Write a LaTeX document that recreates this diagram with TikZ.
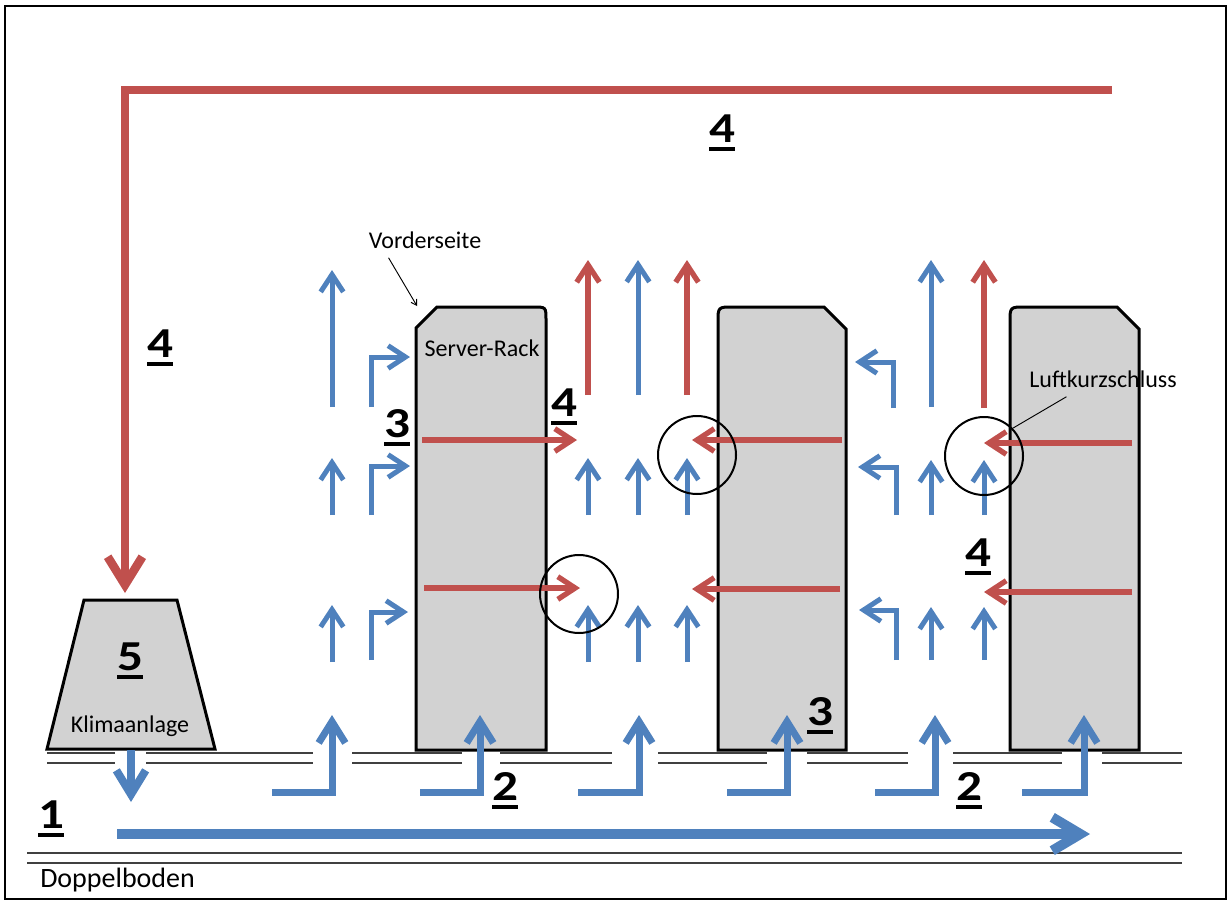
\documentclass[tikz,border=0pt]{standalone}
\usepackage{fontspec}
\setmainfont{Carlito}
\usepackage{graphicx}
\usetikzlibrary{arrows.meta}
\definecolor{cblue}{RGB}{79,129,189}
\definecolor{cred}{RGB}{192,80,77}
\definecolor{rackgray}{RGB}{210,210,210}
\newcommand\ulnum[1]{\setbox0\hbox{#1}\rlap{\vrule height -4pt depth 6.5pt width \wd0}\box0}
\newcommand\dg[1]{\scalebox{1.2}[1]{\fontsize{32}{34}\selectfont\bfseries\ulnum{#1}}}
\begin{document}
\begin{tikzpicture}[x=0.75pt,y=-0.75pt,
  bsmall/.style={draw=cblue, line width=3.75pt, -{Straight Barb[length=13pt,width=17pt,line width=3.75pt]}},
  rsmall/.style={draw=cred, line width=4pt, -{Straight Barb[length=13pt,width=17pt,line width=4pt]}},
  bfloor/.style={draw=cblue, line width=5.25pt, line join=miter, -{Straight Barb[length=16pt,width=20pt,line width=5.25pt]}},
  bmain/.style={draw=cblue, line width=7.5pt, -{Straight Barb[length=21pt,width=25pt,line width=7.5pt]}},
  bdown/.style={draw=cblue, line width=6pt, -{Straight Barb[length=18pt,width=22pt,line width=6pt]}},
  rmain/.style={draw=cred, line width=6.5pt, line join=miter, -{Straight Barb[length=21pt,width=26pt,line width=6.5pt]}},
  flo/.style={draw=black!75, line width=1pt},
  rack/.style={draw=black, line width=2.25pt, fill=rackgray, line join=miter},
  ring/.style={circle, draw=black, line width=1.5pt, minimum size=58.5pt, inner sep=0pt},
  num/.style={inner sep=0pt, anchor=base},
  lbl/.style={inner sep=0pt, anchor=base, font=\fontsize{18}{20}\selectfont},
  pointer/.style={draw=black, line width=0.7pt}
]
\useasboundingbox (0,0) rectangle (1230,903);
% outer frame
\draw[black, line width=1.5pt] (5,6) rectangle (1226,899);

% floor lines (raised floor with perforated gaps)
\foreach \a/\b in {47/115,146/313,352/462,500/612,658/767,807/908,953/1062,1102/1182}{
  \draw[flo] (\a,753) -- (\b,753);
  \draw[flo] (\a,763) -- (\b,763);
}
\draw[flo] (27,853) -- (1182,853);
\draw[flo] (27,863) -- (1182,863);

% racks
\draw[rack] (416,750) -- (416,328) -- (437,307) -- (533,307) .. controls (546,307) .. (546,320) -- (546,750) -- cycle;
\draw[rack] (718,750) -- (718,322) .. controls (718,307) .. (733,307) -- (824,307) -- (846,329) -- (846,750) -- cycle;
\draw[rack] (1010,750) -- (1010,322) .. controls (1010,307) .. (1025,307) -- (1117,307) -- (1139,329) -- (1139,750) -- cycle;

% air conditioner
\draw[rack] (84,600) -- (177,600) -- (215,749) -- (47,749) -- cycle;

% texts
\node[lbl] (klima) at (130,732) {Klimaanlage};
\node[lbl] (srack) at (482,356) {Server-Rack};
\node[lbl] (vs) at (425,248) {Vorderseite};
\node[lbl] (lk) at (1103,387) {Luftkurzschluss};
\node[lbl, anchor=base west, font=\fontsize{21}{24}\selectfont] (dop) at (40,887) {Doppelboden};

% return hot air duct
\coordinate (rs) at (1112,90);
\coordinate (rc) at (125,90);
\coordinate (re) at (125,593);
\draw[rmain] (rs) -- (rc) -- (re);

% cold air from AC into raised floor
\coordinate (ks) at (131,750);
\coordinate (kd) at (131,802);
\draw[bdown] (ks) -- (kd);
\coordinate (ms) at (117,834);
\coordinate (me) at (1090,834);
\draw[bmain] (ms) -- (me);

% floor outlets
\foreach \s/\x in {272/332,420/480,578/639,727/787,875/935,1022/1084}{
  \draw[bfloor] (\s,792) -- (\x,792) -- (\x,715);
}

% aisle 1 (cold)
\draw[bsmall] (332,407) -- (332,270);
\draw[bsmall] (332,515) -- (332,458);
\draw[bsmall] (332,662) -- (332,605);
\draw[bsmall, line join=miter] (371,407) -- (371,357) -- (410,357);
\draw[bsmall, line join=miter] (371,515) -- (371,466) -- (410,466);
\draw[bsmall, line join=miter] (371,660) -- (371,612) -- (408,612);

% aisle 2 (hot)
\draw[rsmall] (588,395) -- (588,260);
\draw[bsmall] (638,395) -- (638,260);
\draw[rsmall] (687,395) -- (687,260);
\foreach \x in {588,638,687}{
  \draw[bsmall] (\x,515) -- (\x,458);
  \draw[bsmall] (\x,662) -- (\x,605);
}
\draw[rsmall] (422,440) -- (577,440);
\draw[rsmall] (424,588) -- (580,588);
\draw[rsmall] (842,440) -- (692,440);
\draw[rsmall] (840,589) -- (692,589);

% aisle 3 (cold)
\draw[bsmall] (931,407) -- (931,260);
\draw[rsmall] (984,408) -- (984,260);
\draw[bsmall, line join=miter] (893,408) -- (893,362) -- (855,362);
\draw[bsmall, line join=miter] (896,515) -- (896,467) -- (858,467);
\draw[bsmall, line join=miter] (896,660) -- (896,610) -- (859,610);
\foreach \x in {931,984}{
  \draw[bsmall] (\x,515) -- (\x,460);
  \draw[bsmall] (\x,660) -- (\x,607);
}
\draw[rsmall] (1132,443) -- (984,443);
\draw[rsmall] (1132,592) -- (984,592);

% short-circuit circles
\node[ring] (c1) at (697,455) {};
\node[ring] (c2) at (579,594) {};
\node[ring] (c3) at (984,456) {};

% pointers
\coordinate (corner) at (417,306);
\draw[pointer, -{Straight Barb[length=4pt,width=5pt]}] ([xshift=15pt,yshift=-7pt]vs.south west) -- (corner);
\draw[pointer] ([xshift=28pt,yshift=-7pt]lk.south west) -- (c3.44);

% numbers
\node[num] (n4a) at (722,142) {\dg{4}};
\node[num] (n4b) at (160,357) {\dg{4}};
\node[num] (n3a) at (397,437) {\dg{3}};
\node[num] (n4c) at (564,416) {\dg{4}};
\node[num] (n3b) at (820,725) {\dg{3}};
\node[num] (n2a) at (505,800) {\dg{2}};
\node[num] (n2b) at (969,800) {\dg{2}};
\node[num] (n1) at (51,828) {\dg{1}};
\node[num] (n5) at (130,670) {\dg{5}};
\node[num] (n4d) at (978,566) {\dg{4}};
\end{tikzpicture}
\end{document}
